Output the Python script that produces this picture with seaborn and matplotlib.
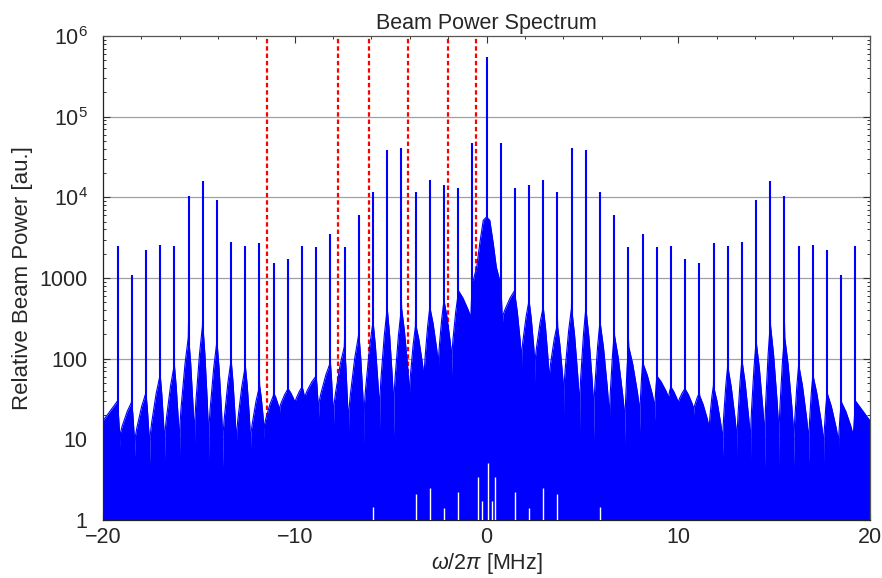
import numpy as np
import matplotlib
matplotlib.use('Agg')
import matplotlib.pyplot as plt
import seaborn as sns
from matplotlib.ticker import FixedLocator, FixedFormatter, NullFormatter, MultipleLocator

# ------------------------------------------------------------
# data (spectrum is mirror symmetric)
# ------------------------------------------------------------
# sideband positions (MHz), k = 1..26
peak_freq = [0.74, 1.48, 2.22, 2.96, 3.70, 4.44, 5.18, 5.92, 6.66, 7.40,
             8.14, 8.88, 9.62, 10.36, 11.10, 11.84, 12.58, 13.32, 14.06, 14.80,
             15.54, 16.28, 17.02, 17.76, 18.50, 19.24]
# spike heights
peak_power = [47400, 13200, 14300, 16300, 11700, 41000, 38700, 11700, 6000, 2390,
              3480, 2400, 2500, 1740, 1520, 2700, 2500, 2800, 9200, 16000,
              10400, 2500, 2570, 2230, 1100, 2500]
carrier_power = 550000
# height of the dense fill right at each spike
skirt_top = [950, 780, 650, 540, 330, 590, 600, 400, 275, 185,
             105, 66, 47, 45, 40, 55, 105, 128, 230, 400,
             275, 110, 80, 45, 33, 30]
# notch on the inner side of spike k (k = 2..26): fraction of spacing, level
notch_frac = [0.9, 0.55, 0.6, 0.6, 0.55, 0.45, 0.45, 0.35, 0.25,
              0.2, 0.15, 0.2, 0.5, 0.4, 0.3, 0.35, 0.35, 0.4, 0.4,
              0.4, 0.35, 0.3, 0.25, 0.2, 0.15]
notch_level = [245, 60, 50, 34, 19, 11, 10, 8.5, 8,
               12, 17, 28, 25, 20, 10, 6, 5, 4.5, 4.5,
               4.5, 4.5, 5, 5, 6, 8]
# central mound of the fill
mound_freq = [0.0, 0.17, 0.35, 0.51, 0.68]
mound_level = [5700, 5200, 2700, 1370, 950]
edge_level = 17

# narrow white gaps at the very bottom of the fill
gap_freq = [-5.92, -3.70, -2.96, -2.22, -1.48, -0.43, -0.24, 0.07,
            0.27, 0.44, 1.48, 2.22, 2.96, 3.70, 5.92]
gap_top = [1.45, 2.1, 2.5, 1.4, 2.2, 3.4, 1.7, 5.1,
           1.7, 3.4, 2.2, 1.4, 2.5, 2.1, 1.45]

# red dashed markers (MHz)
marker_freq = [-11.45, -7.76, -6.15, -4.09, -2.03, -0.55]

# profile of a skirt flank in log space (0 = at spike, 1 = at notch)
flank_t = [0.0, 0.03, 0.38, 0.8, 0.93, 1.0]
flank_g = [1.0, 0.9, 0.72, 0.42, 0.3, 0.0]


def flank(x0, y0, x1, y1):
    """points from (x0, y0) (spike side) to (x1, y1) (notch side)"""
    t = np.array(flank_t)
    g = np.array(flank_g)
    xs = x0 + (x1 - x0) * t
    ly = np.log10(y1) + (np.log10(y0) - np.log10(y1)) * g
    return list(xs), list(10 ** ly)


# build right half of envelope, from centre outwards
pf = np.array(peak_freq)
env_x = list(mound_freq)
env_y = list(mound_level)
for i in range(len(pf)):
    xk, top = pf[i], skirt_top[i]
    if i > 0:
        xn = xk - notch_frac[i - 1] * (pf[i] - pf[i - 1])
        fx, fy = flank(xk, top, xn, notch_level[i - 1])
        env_x += fx[::-1]
        env_y += fy[::-1]
    env_x.append(xk)
    env_y.append(top)
    if i + 1 < len(pf):
        xn = pf[i + 1] - notch_frac[i] * (pf[i + 1] - pf[i])
        fx, fy = flank(xk, top, xn, notch_level[i])
        env_x += fx[1:-1]
        env_y += fy[1:-1]
env_x.append(20.0)
env_y.append(edge_level)

env_x = np.array(env_x)
env_y = np.array(env_y)
full_x = np.concatenate([-env_x[::-1], env_x[1:]])
full_y = np.concatenate([env_y[::-1], env_y[1:]])

spike_x = np.concatenate([-pf[::-1], [0.0], pf])
spike_y = np.concatenate([np.array(peak_power)[::-1], [carrier_power], peak_power])

# ------------------------------------------------------------
# plot
# ------------------------------------------------------------
sns.set_theme(style='ticks')
plt.rcParams['font.family'] = ['Liberation Sans', 'DejaVu Sans']
plt.rcParams['mathtext.fontset'] = 'custom'
plt.rcParams['mathtext.rm'] = 'Liberation Sans'
plt.rcParams['mathtext.it'] = 'Liberation Sans:italic'

blue = '#0000ff'
fig = plt.figure(figsize=(8.82, 5.78), dpi=100)
ax = fig.add_axes([0.1168, 0.1003, 0.8696, 0.8374])

for xm in marker_freq:
    ax.axvline(xm, color='#ff0000', lw=1.6, ls=(0, (2, 1.3)), zorder=1)

ax.fill_between(full_x, 1, full_y, color=blue, lw=0, zorder=2)
sns.lineplot(x=full_x, y=full_y, color=blue, lw=0.8, ax=ax, zorder=3,
             sort=False, estimator=None)
ax.vlines(spike_x, 1, spike_y, color=blue, lw=1.5, zorder=3)
ax.vlines(gap_freq, 1, gap_top, color='white', lw=1.0, zorder=4)

ax.set_yscale('log')
ax.set_xlim(-20, 20)
ax.set_ylim(1, 1e6)

ax.yaxis.set_major_locator(FixedLocator([1, 10, 100, 1000, 1e4, 1e5, 1e6]))
ax.yaxis.set_major_formatter(FixedFormatter(
    ['1', '10', '100', '1000', r'$10^{4}$', r'$10^{5}$', r'$10^{6}$']))
ax.yaxis.set_minor_formatter(NullFormatter())
ax.xaxis.set_major_locator(FixedLocator([-20, -10, 0, 10, 20]))
ax.xaxis.set_major_formatter(FixedFormatter(['\u221220', '\u221210', '0', '10', '20']))
ax.xaxis.set_minor_locator(MultipleLocator(2))

for yv in [10, 100, 1000, 1e4, 1e5]:
    ax.axhline(yv, color='#a0a0a0', lw=0.9, zorder=0)

ax.tick_params(which='both', direction='in', top=True, right=True,
               labelsize=15.5, color='#333333')
ax.tick_params(axis='y', pad=11)
ax.tick_params(axis='x', pad=5)
ax.tick_params(which='major', length=5, width=0.8)
ax.tick_params(which='minor', length=2.5, width=0.7)

for s in ax.spines.values():
    s.set_linewidth(0.9)
    s.set_color('#555555')
ax.spines['left'].set_color('#222222')
ax.spines['bottom'].set_color('#222222')

ax.set_title('Beam Power Spectrum', fontsize=15.5, pad=5)
ax.set_xlabel(r'$\omega/2\pi$ [MHz]', fontsize=15.5, labelpad=2)
ax.set_ylabel('Relative Beam Power [au.]', fontsize=16, labelpad=5)

fig.savefig('out.png', dpi=100)
